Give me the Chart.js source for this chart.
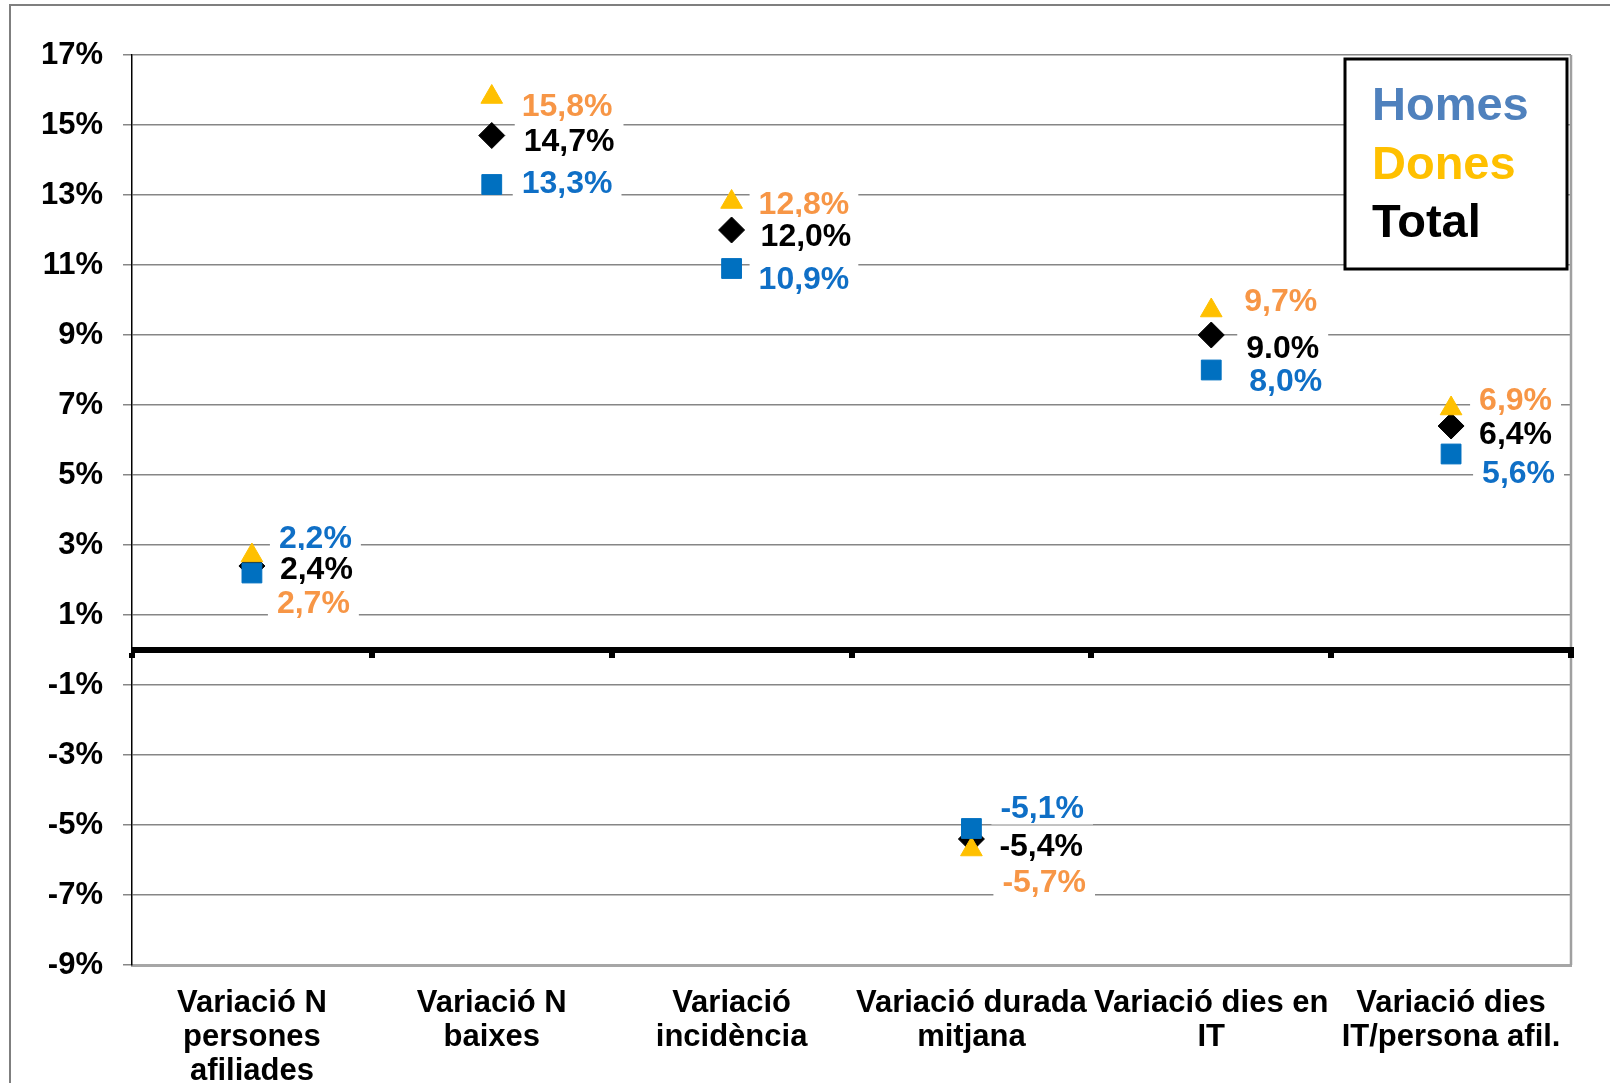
<!DOCTYPE html>
<html lang="ca">
<head>
<meta charset="utf-8">
<title>Variacions IT - Homes, Dones, Total</title>
<script src="https://cdn.jsdelivr.net/npm/chart.js@4.4.1/dist/chart.umd.min.js"></script>
<style>
    html, body { margin: 0; padding: 0; background: #fff; overflow: hidden; }
    #chart { display: block; }
</style>
</head>
<body>
<canvas id="chart" width="1610" height="1083"></canvas>
<script>
// Dades del gràfic
const categories = [
    ['Variació N', 'persones', 'afiliades'],
    ['Variació N', 'baixes'],
    ['Variació', 'incidència'],
    ['Variació durada', 'mitjana'],
    ['Variació dies en', 'IT'],
    ['Variació dies', 'IT/persona afil.']
];
const seriesNames = ['Homes', 'Dones', 'Total'];
const homes = [2.2, 13.3, 10.9, -5.1, 8.0, 5.6];
const dones = [2.7, 15.8, 12.8, -5.7, 9.7, 6.9];
const total = [2.4, 14.7, 12.0, -5.4, 9.0, 6.4];
const homesText = ['2,2%', '13,3%', '10,9%', '-5,1%', '8,0%', '5,6%'];
const donesText = ['2,7%', '15,8%', '12,8%', '-5,7%', '9,7%', '6,9%'];
const totalText = ['2,4%', '14,7%', '12,0%', '-5,4%', '9.0%', '6,4%'];
const yMin = -9;
const yMax = 17;
const yStep = 2;

// Desplaçament de les etiquetes respecte al punt (px): [dx, dy]
const homesShift = [[27, -36], [30, -3], [27, 9], [29, -22], [38, 10], [31, 18]];
const donesShift = [[25, 46], [30, 8], [27, 1], [31, 31], [33, -11], [28, -10]];
const totalShift = [[28, 2], [32, 4], [29, 5], [28, 6], [35, 12], [28, 7]];

const FONT = "'Liberation Sans', Arial, Helvetica, sans-serif";

// Marc exterior i vora de l'àrea del gràfic
const framePlugin = {
    id: 'framePlugin',
    beforeDraw(chart) {
        const ctx = chart.ctx;
        ctx.save();
        ctx.fillStyle = '#fff';
        ctx.fillRect(0, 0, chart.width, chart.height);
        ctx.strokeStyle = '#7f7f7f';
        ctx.lineWidth = 2;
        ctx.beginPath();
        ctx.moveTo(10, chart.height);
        ctx.lineTo(10, 5);
        ctx.lineTo(chart.width, 5);
        ctx.stroke();
        ctx.restore();
    },
    beforeDatasetsDraw(chart) {
        const { ctx, chartArea } = chart;
        ctx.save();
        ctx.strokeStyle = '#a0a0a0';
        ctx.lineWidth = 2.5;
        ctx.beginPath();
        ctx.moveTo(chartArea.right, chartArea.top);
        ctx.lineTo(chartArea.right, chartArea.bottom);
        ctx.stroke();
        ctx.restore();
    }
};

// Línia del zero amb marques de categoria
const zeroLine = {
    id: 'zeroLine',
    beforeDatasetsDraw(chart) {
        const { ctx, chartArea, scales: { x, y } } = chart;
        const y0 = Math.round(y.getPixelForValue(0));
        const step = x.getPixelForValue(1) - x.getPixelForValue(0);
        ctx.save();
        ctx.fillStyle = '#000';
        ctx.fillRect(chartArea.left, y0 - 3, chartArea.right - chartArea.left + 3, 6);
        for (let i = 0; i <= categories.length; i++) {
            const xp = x.getPixelForValue(i) - step / 2;
            ctx.fillRect(Math.round(xp) - 3, y0 + 3, 6, 5);
        }
        ctx.restore();
    }
};

// Etiquetes de dades amb fons blanc
const valueLabels = {
    id: 'valueLabels',
    beforeDatasetsDraw(chart) {
        const ctx = chart.ctx;
        ctx.save();
        ctx.font = 'bold 32px ' + FONT;
        ctx.textAlign = 'left';
        ctx.textBaseline = 'alphabetic';
        chart.data.datasets.forEach((ds, i) => {
            const meta = chart.getDatasetMeta(i);
            meta.data.forEach((pt, j) => {
                const txt = ds.valueText[j];
                const [dx, dy] = ds.labelShift[j];
                const w = ctx.measureText(txt).width;
                const left = pt.x + dx;
                const cy = pt.y + dy;
                ctx.fillStyle = '#fff';
                ctx.fillRect(left - 9, cy - 18, w + 18, 36);
                ctx.fillStyle = ds.labelColor;
                ctx.fillText(txt, left, cy + 11.3);
            });
        });
        ctx.restore();
    }
};

// Llegenda amb text de colors
const textLegend = {
    id: 'textLegend',
    afterDraw(chart) {
        const { ctx, chartArea } = chart;
        const right = chartArea.right - 4;
        const top = chartArea.top + 4;
        const w = 222, h = 210;
        ctx.save();
        ctx.fillStyle = '#fff';
        ctx.fillRect(right - w, top, w, h);
        ctx.strokeStyle = '#000';
        ctx.lineWidth = 3;
        ctx.strokeRect(right - w, top, w, h);
        ctx.font = 'bold 47px ' + FONT;
        ctx.textAlign = 'left';
        ctx.textBaseline = 'alphabetic';
        chart.data.datasets.forEach((ds, i) => {
            ctx.fillStyle = ds.legendColor;
            ctx.fillText(ds.label, right - w + 27, top + 61 + i * 58.5);
        });
        ctx.restore();
    }
};

function series(label, values, text, shift, style, radius, color, labelColor, legendColor) {
    return {
        label: label,
        data: values,
        valueText: text,
        labelShift: shift,
        labelColor: labelColor,
        legendColor: legendColor,
        showLine: false,
        pointStyle: style,
        pointRadius: radius,
        pointHoverRadius: radius,
        pointBackgroundColor: color,
        pointBorderColor: color,
        pointBorderWidth: 1,
        borderColor: color,
        backgroundColor: color
    };
}

new Chart(document.getElementById('chart').getContext('2d'), {
    type: 'line',
    data: {
        labels: categories,
        datasets: [
            series(seriesNames[0], homes, homesText, homesShift, 'rect', 14, '#0070C0', '#0F6FC6', '#4F81BD'),
            series(seriesNames[1], dones, donesText, donesShift, 'triangle', 12.5, '#FFC000', '#F79646', '#FFC000'),
            series(seriesNames[2], total, totalText, totalShift, 'rectRot', 13, '#000000', '#000000', '#000000')
        ]
    },
    options: {
        responsive: false,
        devicePixelRatio: 1,
        animation: false,
        events: [],
        layout: { padding: { left: 0, top: 55, right: 39, bottom: 0 } },
        plugins: {
            legend: { display: false },
            tooltip: { enabled: false }
        },
        scales: {
            x: {
                type: 'category',
                offset: true,
                grid: { display: false },
                border: { display: true, color: '#a6a6a6', width: 3 },
                ticks: {
                    color: '#000',
                    padding: 13,
                    maxRotation: 0,
                    autoSkip: false,
                    font: { family: FONT, size: 31, weight: 'bold', lineHeight: 1.1 }
                },
                afterFit(scale) { scale.height = 118; }
            },
            y: {
                min: yMin,
                max: yMax,
                grid: { color: '#868686', lineWidth: 1.5, tickLength: 9 },
                border: { display: true, color: '#000', width: 1.5 },
                ticks: {
                    stepSize: yStep,
                    color: '#000',
                    padding: 20,
                    font: { family: FONT, size: 31, weight: 'bold' },
                    callback: v => v + '%'
                },
                afterFit(scale) { scale.width = 132; }
            }
        }
    },
    plugins: [framePlugin, zeroLine, valueLabels, textLegend]
});
</script>
</body>
</html>
